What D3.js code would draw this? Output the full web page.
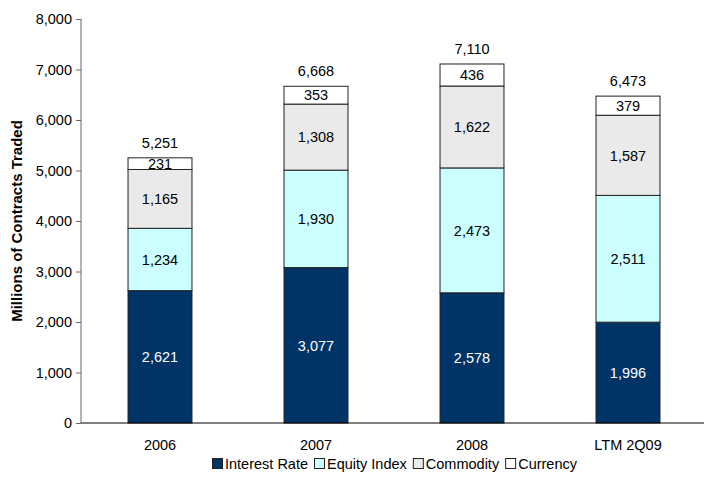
<!DOCTYPE html>
<html>
<head>
<meta charset="utf-8">
<script src="https://cdn.jsdelivr.net/npm/d3@7"></script>
<style>
  body { margin: 0; background: #fff; }
  svg { display: block; font-family: "Liberation Sans", Arial, sans-serif; }
</style>
</head>
<body>
<svg id="chart" width="704" height="485"></svg>
<script>
// Contract volume by product line (millions of contracts)
const categories = ["2006", "2007", "2008", "LTM 2Q09"];
const seriesNames = ["Interest Rate", "Equity Index", "Commodity", "Currency"];
const interestRate = [2621, 3077, 2578, 1996];
const equityIndex = [1234, 1930, 2473, 2511];
const commodity = [1165, 1308, 1622, 1587];
const currency = [231, 353, 436, 379];
const totals = [5251, 6668, 7110, 6473];
const yTicks = [0, 1000, 2000, 3000, 4000, 5000, 6000, 7000, 8000];

const colors = ["#003366", "#CCFFFF", "#EAEAEA", "#FFFFFF"];
const labelColors = ["#FFFFFF", "#000000", "#000000", "#000000"];
const FS = 14.5;

const rows = categories.map((c, i) => ({
  cat: c,
  "Interest Rate": interestRate[i],
  "Equity Index": equityIndex[i],
  "Commodity": commodity[i],
  "Currency": currency[i],
  total: totals[i]
}));

const svg = d3.select("#chart");

const x = d3.scaleBand().domain(categories).range([82, 706]).paddingInner(0.59).paddingOuter(0.295);
const y = d3.scaleLinear().domain([0, 8000]).range([423, 19]);

const layers = d3.stack().keys(seriesNames)(rows);
const fmt = d3.format(",");

// Stacked bars with segment values
const g = svg.append("g");
layers.forEach((layer, si) => {
  g.selectAll(null).data(layer).enter().append("rect")
    .attr("x", d => x(d.data.cat))
    .attr("width", x.bandwidth())
    .attr("y", d => y(d[1]))
    .attr("height", d => y(d[0]) - y(d[1]))
    .attr("fill", colors[si])
    .attr("stroke", "#222")
    .attr("stroke-width", 1);
  g.selectAll(null).data(layer).enter().append("text")
    .attr("x", d => x(d.data.cat) + x.bandwidth() / 2)
    .attr("y", d => (y(d[0]) + y(d[1])) / 2)
    .attr("dy", "0.36em")
    .attr("text-anchor", "middle")
    .attr("font-size", FS)
    .attr("fill", labelColors[si])
    .text(d => fmt(d[1] - d[0]));
});

// Totals above each bar
g.selectAll(null).data(rows).enter().append("text")
  .attr("x", d => x(d.cat) + x.bandwidth() / 2)
  .attr("y", d => y(d.total) - 10)
  .attr("text-anchor", "middle")
  .attr("font-size", FS)
  .attr("fill", "#000")
  .text(d => fmt(d.total));

// Y axis
const yAxis = svg.append("g")
  .attr("transform", "translate(81,0)")
  .call(d3.axisLeft(y).tickValues(yTicks).tickFormat(fmt).tickSize(5).tickPadding(4));
yAxis.select(".domain").attr("stroke", "#666").attr("d", "M0,19V423");
yAxis.selectAll(".tick line").attr("stroke", "#666");
yAxis.selectAll(".tick text").attr("font-size", FS).attr("fill", "#000")
  .attr("font-family", "Liberation Sans, Arial, sans-serif");

// X axis
const xAxis = svg.append("g")
  .attr("transform", "translate(0,423)")
  .call(d3.axisBottom(x).tickSize(0).tickPadding(17));
xAxis.select(".domain").attr("stroke", "#000").attr("d", "M81,0H704");
xAxis.selectAll(".tick text").attr("font-size", FS).attr("fill", "#000")
  .attr("font-family", "Liberation Sans, Arial, sans-serif");

// Y axis title
svg.append("text")
  .attr("transform", "translate(22,221) rotate(-90)")
  .attr("text-anchor", "middle")
  .attr("font-size", 15)
  .attr("font-weight", "bold")
  .text("Millions of Contracts Traded");

// Legend, centred below the plot
const legend = svg.append("g");
let lx = 0;
seriesNames.forEach((name, i) => {
  const item = legend.append("g").attr("transform", `translate(${lx},0)`);
  item.append("rect").attr("x", 0.5).attr("y", -10.5).attr("width", 10).attr("height", 10)
    .attr("fill", colors[i]).attr("stroke", "#222").attr("stroke-width", 1);
  const t = item.append("text").attr("x", 13).attr("y", 0)
    .attr("font-size", FS).attr("fill", "#000").text(name);
  lx += 13 + t.node().getComputedTextLength() + 6;
});
legend.attr("transform", `translate(${Math.round(394 - (lx - 6) / 2)},469)`);
</script>
</body>
</html>
